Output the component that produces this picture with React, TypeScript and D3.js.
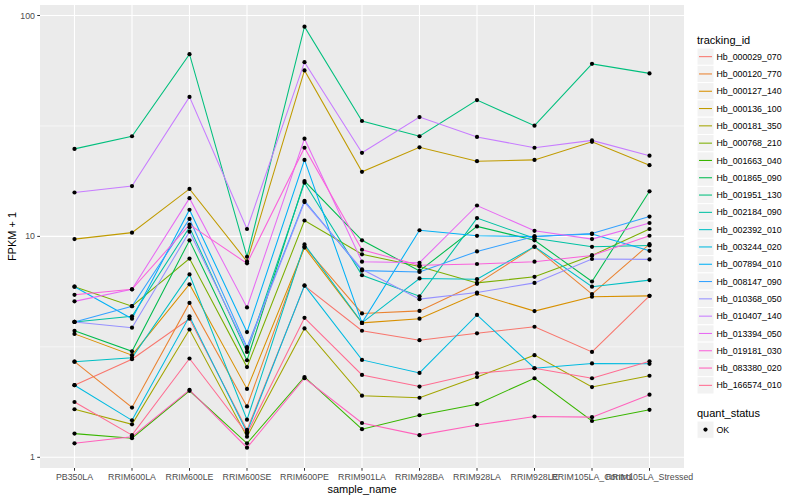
import * as d3 from 'd3';

// sample_name on the x axis
const samples = [
  'PB350LA', 'RRIM600LA', 'RRIM600LE', 'RRIM600SE', 'RRIM600PE', 'RRIM901LA',
  'RRIM928BA', 'RRIM928LA', 'RRIM928LE', 'RRIM105LA_Control', 'RRIM105LA_Stressed',
];

const trackingIds = [
  'Hb_000029_070', 'Hb_000120_770', 'Hb_000127_140', 'Hb_000136_100', 'Hb_000181_350',
  'Hb_000768_210', 'Hb_001663_040', 'Hb_001865_090', 'Hb_001951_130', 'Hb_002184_090',
  'Hb_002392_010', 'Hb_003244_020', 'Hb_007894_010', 'Hb_008147_090', 'Hb_010368_050',
  'Hb_010407_140', 'Hb_013394_050', 'Hb_019181_030', 'Hb_083380_020', 'Hb_166574_010',
];

// FPKM + 1 per sample
const hb000029_070 = [2.12, 2.78, 4.24, 1.33, 5.98, 3.74, 3.39, 3.64, 3.9, 3.0, 5.38];
const hb000120_770 = [2.71, 1.68, 5.0, 1.7, 9.0, 4.48, 4.6, 6.1, 8.97, 5.48, 9.22];
const hb000127_140 = [3.62, 2.9, 6.07, 2.04, 8.9, 4.06, 4.24, 5.5, 4.59, 5.33, 5.38];
const hb000136_100 = [9.72, 10.4, 16.4, 7.7, 56.4, 19.6, 25.3, 21.9, 22.2, 26.8, 21.0];
const hb000181_350 = [1.65, 1.41, 3.79, 1.24, 3.83, 1.9, 1.86, 2.31, 2.9, 2.08, 2.34];
const hb000768_210 = [5.92, 4.83, 7.94, 2.56, 11.8, 8.3, 7.3, 6.16, 6.56, 8.2, 10.8];
const hb001663_040 = [1.28, 1.22, 2.0, 1.157, 2.31, 1.34, 1.55, 1.74, 2.28, 1.46, 1.64];
const hb001865_090 = [3.74, 3.02, 9.6, 2.75, 17.8, 9.6, 6.98, 11.1, 9.6, 6.25, 16.0];
const hb001951_130 = [24.9, 28.4, 66.8, 8.09, 89, 33.3, 28.4, 41.4, 31.7, 60.4, 54.7];
const hb002184_090 = [4.1, 4.35, 11.0, 3.0, 17.5, 6.67, 5.36, 12.1, 9.8, 8.97, 9.1];
const hb002392_010 = [2.71, 2.82, 6.73, 1.48, 9.2, 4.06, 6.45, 6.4, 9.0, 5.92, 6.34];
const hb003244_020 = [2.12, 1.47, 4.35, 1.3, 6.0, 2.76, 2.41, 4.41, 2.53, 2.66, 2.65];
const hb007894_010 = [5.92, 4.24, 13.2, 3.69, 22.2, 4.06, 10.66, 10.06, 10.0, 10.26, 8.6];
const hb008147_090 = [4.1, 4.83, 12.0, 3.15, 14.5, 7.0, 6.9, 8.55, 10.0, 10.3, 12.3];
const hb010368_050 = [4.1, 3.86, 10.5, 3.1, 14.3, 7.1, 5.2, 5.57, 6.16, 7.9, 7.87];
const hb010407_140 = [15.8, 16.9, 42.8, 10.8, 61.5, 23.9, 34.7, 28.2, 25.2, 27.2, 23.2];
const hb013394_050 = [5.08, 5.76, 14.9, 4.77, 27.7, 7.68, 7.6, 13.8, 10.6, 9.72, 11.5];
const hb019181_030 = [5.44, 5.76, 11.3, 7.55, 25.2, 8.7, 7.4, 7.5, 7.68, 8.2, 10.07];
const hb083380_020 = [1.157, 1.24, 2.02, 1.105, 2.28, 1.43, 1.26, 1.4, 1.53, 1.52, 1.92];
const hb166574_010 = [1.78, 1.26, 2.8, 1.28, 4.28, 2.36, 2.09, 2.4, 2.53, 2.28, 2.72];

const seriesValues = [
  hb000029_070, hb000120_770, hb000127_140, hb000136_100, hb000181_350,
  hb000768_210, hb001663_040, hb001865_090, hb001951_130, hb002184_090,
  hb002392_010, hb003244_020, hb007894_010, hb008147_090, hb010368_050,
  hb010407_140, hb013394_050, hb019181_030, hb083380_020, hb166574_010,
];

const yTicks = [1, 10, 100];
const yMinor = [Math.sqrt(10), Math.sqrt(1000)];

const width = 800;
const height = 500;
const panelLeft = 40;
const panelRight = 684;
const panelTop = 5;
const panelBottom = 468;

// ggplot hue palette for 20 levels
const palette = [
  '#F8766D', '#EA8331', '#D89000', '#C09B00', '#A3A500', '#7CAE00', '#39B600', '#00BB4E',
  '#00BF7D', '#00C1A3', '#00BFC4', '#00BAE0', '#00B0F6', '#35A2FF', '#9590FF', '#C77CFF',
  '#E76BF3', '#FA62DB', '#FF62BC', '#FF6C91',
];

const font = '"Liberation Sans", Arial, Helvetica, sans-serif';

export default function App() {
  const x = d3.scalePoint<string>().domain(samples).range([panelLeft, panelRight]).padding(0.6);
  const y = d3.scaleLog().domain([1, 100]).range([457.3, 15.5]);

  const line = d3.line<number>()
    .x((_, i) => x(samples[i])!)
    .y(d => y(d));

  const keyTop = 48;
  const keyH = 17.3;

  return (
    <svg width={width} height={height} style={{ position: 'absolute', left: 0, top: 0 }} fontFamily={font}>
      <rect width={width} height={height} fill="#fff" />
      <rect x={panelLeft} y={panelTop} width={panelRight - panelLeft} height={panelBottom - panelTop} fill="#EBEBEB" />
      {yMinor.map(v => (
        <line key={'m' + v} x1={panelLeft} x2={panelRight} y1={y(v)} y2={y(v)} stroke="#fff" strokeWidth={0.55} />
      ))}
      {yTicks.map(v => (
        <line key={'g' + v} x1={panelLeft} x2={panelRight} y1={y(v)} y2={y(v)} stroke="#fff" strokeWidth={1.1} />
      ))}
      {samples.map(s => (
        <line key={'v' + s} x1={x(s)} x2={x(s)} y1={panelTop} y2={panelBottom} stroke="#fff" strokeWidth={1.1} />
      ))}

      {seriesValues.map((vals, i) => (
        <path key={trackingIds[i]} d={line(vals)!} fill="none" stroke={palette[i]} strokeWidth={1.05} />
      ))}
      {seriesValues.map((vals, i) =>
        vals.map((v, j) => (
          <circle key={i + '-' + j} cx={x(samples[j])} cy={y(v)} r={2.1} fill="#000" />
        ))
      )}

      {/* y axis */}
      {yTicks.map(v => (
        <g key={'yt' + v}>
          <line x1={panelLeft - 2.75} x2={panelLeft} y1={y(v)} y2={y(v)} stroke="#333" strokeWidth={1} />
          <text x={panelLeft - 5} y={y(v)} dy="0.35em" textAnchor="end" fontSize={8.8} fill="#4D4D4D">{v}</text>
        </g>
      ))}
      <text transform={`translate(16,${(panelTop + panelBottom) / 2}) rotate(-90)`} textAnchor="middle" fontSize={11} fill="#000">FPKM + 1</text>

      {/* x axis */}
      {samples.map(s => (
        <g key={'xt' + s}>
          <line x1={x(s)} x2={x(s)} y1={panelBottom} y2={panelBottom + 2.75} stroke="#333" strokeWidth={1} />
          <text x={x(s)} y={480} textAnchor="middle" fontSize={8.8} fill="#4D4D4D">{s}</text>
        </g>
      ))}
      <text x={(panelLeft + panelRight) / 2} y={493} textAnchor="middle" fontSize={11} fill="#000">sample_name</text>

      {/* legend: tracking_id */}
      <text x={697} y={44} fontSize={11} fill="#000">tracking_id</text>
      {trackingIds.map((id, i) => {
        const top = keyTop + i * keyH;
        return (
          <g key={'lg' + id}>
            <rect x={697} y={top} width={17} height={keyH} fill="#F2F2F2" stroke="#fff" strokeWidth={1} />
            <line x1={699} x2={712} y1={top + keyH / 2} y2={top + keyH / 2} stroke={palette[i]} strokeWidth={1.05} />
            <text x={716.5} y={top + keyH / 2} dy="0.35em" fontSize={8.8} fill="#000">{id}</text>
          </g>
        );
      })}

      {/* legend: quant_status */}
      <text x={697} y={416.5} fontSize={11} fill="#000">quant_status</text>
      <rect x={697} y={421} width={17} height={17.3} fill="#F2F2F2" stroke="#fff" strokeWidth={1} />
      <circle cx={705.5} cy={429.6} r={2.1} fill="#000" />
      <text x={716.5} y={429.6} dy="0.35em" fontSize={8.8} fill="#000">OK</text>
    </svg>
  );
}
